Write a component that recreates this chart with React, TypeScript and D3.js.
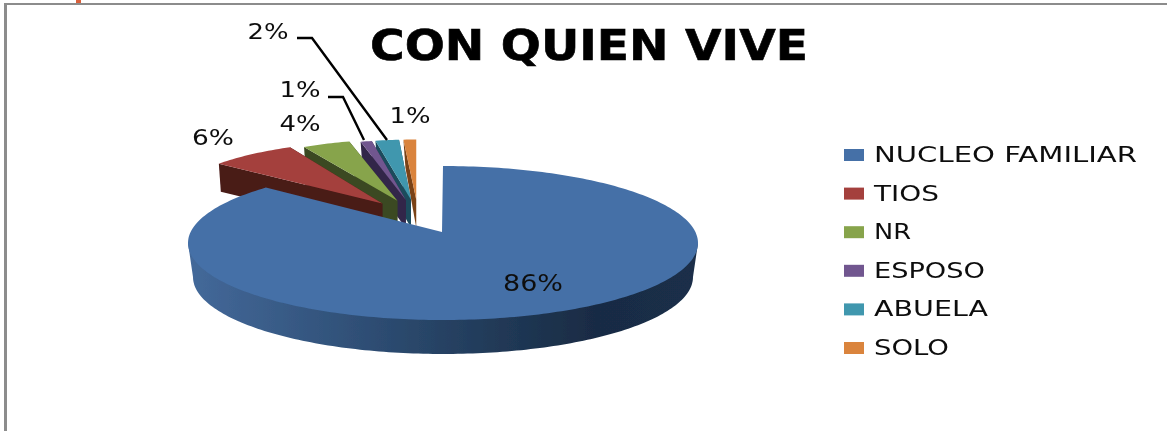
import React from "react";
import * as d3 from "d3";

const categories = ["NUCLEO FAMILIAR", "TIOS", "NR", "ESPOSO", "ABUELA", "SOLO"];
const shares = [86, 6, 4, 1, 2, 1];
const percentLabels = ["86%", "6%", "4%", "1%", "2%", "1%"];
const topColors = ["#4570a7", "#a4403e", "#87a44c", "#71578f", "#3f97ae", "#da843c"];
const sideColors = ["#2a4566", "#4a1b18", "#3a4a20", "#33264a", "#1c4c5c", "#7a4318"];

const labelPos: [number, number][] = [[533, 283], [213, 137], [300, 123], [300, 89], [268, 31], [410, 115]];
const labelWidths = [60, 42, 41, 41, 41, 41];
const legendWidths = [263, 65, 37, 111, 114, 75];
const rimScaleX = [1, 1.04, 0.95, 0.89, 0.93, 1];
const rimScaleY = [1, 1.04, 1.02, 1, 1, 1];
const rimEndTrim = [0, -3, 0, 0, 0, 0];
const leaders: ([number, number][] | null)[] = [
  null, null, null,
  [[328, 97], [343, 97], [364, 140]],
  [[297, 38], [312, 38], [387, 140]],
  null,
];

const W = 1167, H = 431;
const pieC = { x: 418, y: 216.5 };
const explode = { x: 56, y: 17 };
const small = { rx: 204, ry: 60, depth: 28 };
const big = { cx: 443, cy: 243, rx: 255, ry: 77, apexX: 442, apexY: 232, depth: 34, bottomRx: 250, endFix: (6.4 * Math.PI) / 180 };

const pie = d3.pie<number>().sort(null).startAngle(0).endAngle(2 * Math.PI);
const arcs = pie(shares);
const line = d3.line<[number, number]>().x((d) => d[0]).y((d) => d[1]);

function sweep(a0: number, a1: number, cx: number, cy: number, rx: number, ry: number): [number, number][] {
  const n = Math.max(2, Math.ceil((a1 - a0) / 0.02));
  const t = d3.scaleLinear().domain([0, n]).range([a0, a1]);
  return d3.range(n + 1).map((i) => [cx + rx * Math.sin(t(i)), cy - ry * Math.cos(t(i))] as [number, number]);
}

const font = "'DejaVu Sans', sans-serif";

export default function App() {
  const smallSlices = arcs.slice(1).map((a, i) => {
    const idx = i + 1;
    const mid = (a.startAngle + a.endAngle) / 2;
    const ax = pieC.x + explode.x * Math.sin(mid);
    const ay = pieC.y - explode.y * Math.cos(mid);
    const end = a.endAngle - (rimEndTrim[idx] * Math.PI) / 180;
    const rim = sweep(a.startAngle, end, ax, ay, small.rx * rimScaleX[idx], small.ry * rimScaleY[idx]);
    const top = line([[ax, ay], ...rim])! + "Z";
    const s = rim[0];
    const e = rim[rim.length - 1];
    const side = line([[s[0], s[1]], [ax, ay], [ax, ay + small.depth], [s[0] + 2, s[1] + small.depth]])! + "Z";
    const sideRight = line([[e[0], e[1]], [ax, ay], [ax, ay + small.depth], [e[0], e[1] + small.depth]])! + "Z";
    return { i: idx, top, side, sideRight };
  }).reverse();

  const b = arcs[0];
  const bigRim = sweep(b.startAngle, b.endAngle + big.endFix, big.cx, big.cy, big.rx, big.ry);
  const bigTop = line([[big.apexX, big.apexY], ...bigRim])! + "Z";
  const front = sweep(Math.PI / 2, (3 * Math.PI) / 2, big.cx, big.cy + big.depth, big.bottomRx, big.ry);
  const bigSide = line([[big.cx + big.rx, big.cy], ...front, [big.cx - big.rx, big.cy]])! + "Z";

  const legendY = d3.scalePoint<string>().domain(categories).range([155, 348]);

  return (
    <svg width={W} height={H} style={{ position: "fixed", left: 0, top: 0, background: "#fff" }}>
      <defs>
        <linearGradient id="bs" gradientUnits="userSpaceOnUse" x1={188} x2={698} y1={0} y2={0}>
          <stop offset="0" stopColor="#44699a" />
          <stop offset="0.3" stopColor="#31527a" />
          <stop offset="0.6" stopColor="#213a58" />
          <stop offset="0.8" stopColor="#192b44" />
          <stop offset="1" stopColor="#1a2f49" />
        </linearGradient>
        <filter id="soft" x="-5%" y="-5%" width="110%" height="110%">
          <feGaussianBlur stdDeviation="0.5" />
        </filter>
      </defs>

      <g filter="url(#soft)">
        <rect x={4} y={3} width={W - 4} height={2} fill="#8c8c8c" />
        <rect x={4} y={3} width={3} height={H - 3} fill="#8c8c8c" />
        <rect x={76} y={0} width={5} height={3} fill="#d9603a" />

        {smallSlices.map((s) => (
          <g key={s.i}>
            <path d={s.sideRight} fill={sideColors[s.i]} />
            <path d={s.side} fill={sideColors[s.i]} />
            <path d={s.top} fill={topColors[s.i]} />
          </g>
        ))}

        <path d={bigSide} fill="url(#bs)" />
        <path d={bigTop} fill={topColors[0]} />

        {leaders.map((l, i) =>
          l ? <path key={i} d={line(l)!} fill="none" stroke="#000" strokeWidth={2.4} /> : null
        )}

        {percentLabels.map((t, i) => (
          <text key={i} x={labelPos[i][0]} y={labelPos[i][1] + 8} fontFamily={font} fontSize={i === 0 ? 23 : 21}
            textAnchor="middle" textLength={labelWidths[i]} lengthAdjust="spacingAndGlyphs" fill="#111">
            {t}
          </text>
        ))}

        <text x={589} y={60} fontFamily={font} fontSize={42} fontWeight="bold" textAnchor="middle"
          textLength={438} lengthAdjust="spacingAndGlyphs" fill="#000" stroke="#000" strokeWidth={0.6}>
          CON QUIEN VIVE
        </text>

        {categories.map((c, i) => {
          const y = legendY(c)!;
          return (
            <g key={c}>
              <rect x={844} y={y - 6} width={20} height={12} fill={topColors[i]} />
              <text x={874} y={y + 7} fontFamily={font} fontSize={20.5} textLength={legendWidths[i]}
                lengthAdjust="spacingAndGlyphs" fill="#111">
                {c}
              </text>
            </g>
          );
        })}
      </g>
    </svg>
  );
}
